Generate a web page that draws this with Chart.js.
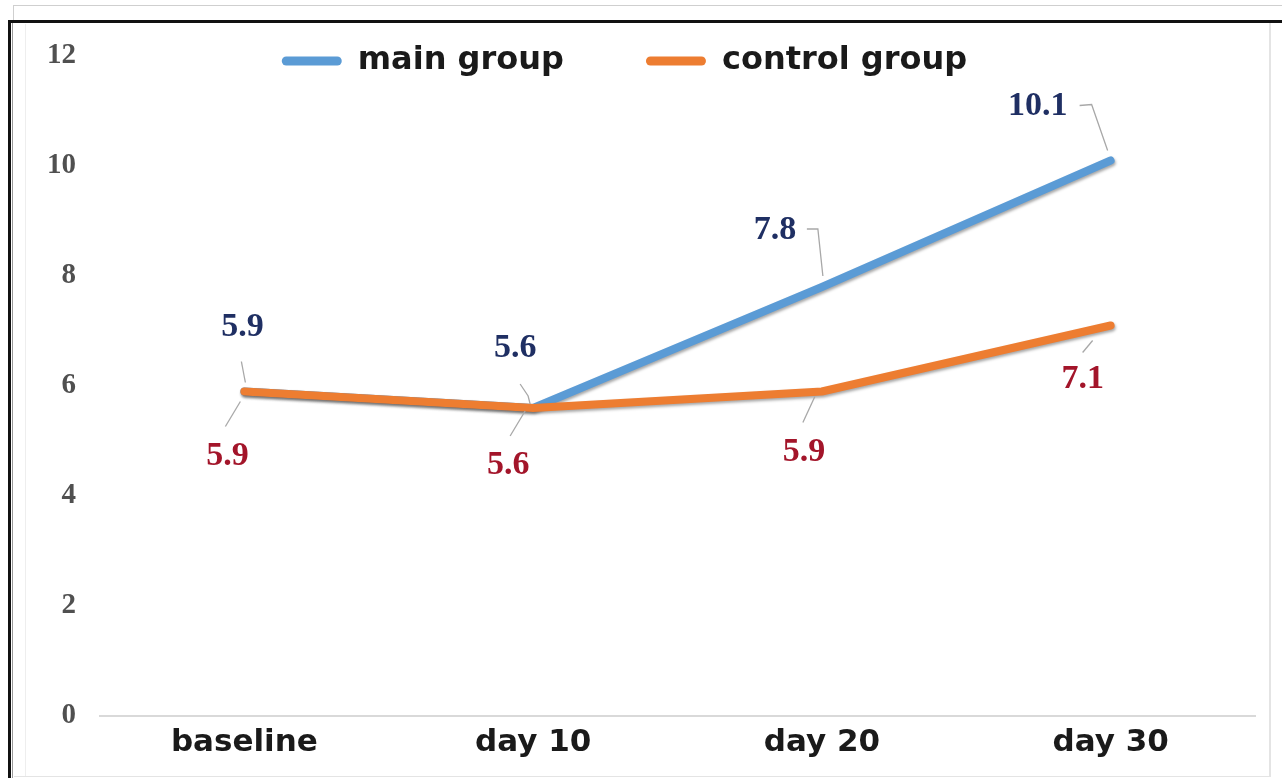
<!DOCTYPE html>
<html>
<head>
<meta charset="utf-8">
<script src="https://cdn.jsdelivr.net/npm/chart.js@4/dist/chart.umd.min.js"></script>
<style>
  html, body { margin: 0; padding: 0; background: #ffffff; }
  body { width: 1282px; height: 778px; position: relative; overflow: hidden; }
  .ln { position: absolute; }
  #wrap { position: absolute; left: 10px; top: 23px; width: 1260px; height: 753px; }
</style>
</head>
<body>
<!-- frame lines -->
<div class="ln" style="left:14px; top:5px; width:1268px; height:1px; background:#cfcfcf;"></div>
<div class="ln" style="left:13px; top:5px; width:1px; height:16px; background:#cfcfcf;"></div>
<div class="ln" style="left:8px; top:20px; width:1274px; height:3px; background:#111;"></div>
<div class="ln" style="left:8px; top:20px; width:3px; height:758px; background:#111;"></div>
<div class="ln" style="left:12px; top:23px; width:1px; height:755px; background:#9a9a9a;"></div>
<div class="ln" style="left:25px; top:24px; width:1px; height:752px; background:#eeeeee;"></div>
<div class="ln" style="left:1269px; top:23px; width:2px; height:753px; background:#e4e4e4;"></div>
<div class="ln" style="left:14px; top:776px; width:1257px; height:1px; background:#e4e4e4;"></div>

<div id="wrap"><canvas id="chart" width="1260" height="753"></canvas></div>

<script>
// Categories and measured values
const categories = ['baseline', 'day 10', 'day 20', 'day 30'];
const mainGroup = [5.9, 5.6, 7.8, 10.1];
const controlGroup = [5.9, 5.6, 5.9, 7.1];
const yTicks = [0, 2, 4, 6, 8, 10, 12];

const BLUE = '#5B9BD5';
const ORANGE = '#ED7D31';

// Where each value label sits relative to its point, plus its leader line
const labelPlacement = [
  [ // main group
    { dx: -2,  dy: -64, leader: [[-3, -30], [1, -9]] },
    { dx: -18, dy: -60, leader: [[-13, -24], [-5, -12], [-3, -4]] },
    { dx: -47, dy: -57, leader: [[-15, -58], [-4, -58], [1, -11]] },
    { dx: -73, dy: -54, leader: [[-31, -55], [-19, -56], [-3, -10]] }
  ],
  [ // control group
    { dx: -17, dy: 65, leader: [[-4, 10], [-19, 35]] },
    { dx: -25, dy: 57, leader: [[-8, 3], [-23, 28]] },
    { dx: -18, dy: 61, leader: [[-7, 5], [-19, 31]] },
    { dx: -28, dy: 54, leader: [[-18, 15], [-28, 27]] }
  ]
];

// Soft shadow under each line
const lineShadow = {
  id: 'lineShadow',
  beforeDatasetDraw(chart) {
    const ctx = chart.ctx;
    ctx.save();
    ctx.shadowColor = 'rgba(0,0,0,0.35)';
    ctx.shadowBlur = 3;
    ctx.shadowOffsetX = 1;
    ctx.shadowOffsetY = 2;
  },
  afterDatasetDraw(chart) {
    chart.ctx.restore();
  }
};

// Value labels with leader lines, drawn from the dataset values
const valueLabels = {
  id: 'valueLabels',
  afterDatasetsDraw(chart, args, opts) {
    const ctx = chart.ctx;
    ctx.save();
    chart.data.datasets.forEach((ds, di) => {
      const meta = chart.getDatasetMeta(di);
      const place = opts.placement[di];
      meta.data.forEach((pt, i) => {
        const p = place[i];
        ctx.beginPath();
        p.leader.forEach((o, k) => {
          if (k === 0) ctx.moveTo(pt.x + o[0], pt.y + o[1]);
          else ctx.lineTo(pt.x + o[0], pt.y + o[1]);
        });
        ctx.strokeStyle = opts.leaderColor;
        ctx.lineWidth = 1.3;
        ctx.stroke();
        ctx.font = opts.font;
        ctx.fillStyle = opts.colors[di];
        ctx.textAlign = 'center';
        ctx.textBaseline = 'middle';
        ctx.fillText(ds.data[i].toFixed(1), pt.x + p.dx, pt.y + p.dy);
      });
    });
    ctx.restore();
  }
};

// Legend drawn inside the top of the plot instead of taking its own band
const LEGEND_ROW_TOP = 22;
const LEGEND_SHIFT_X = -8;
const legendInPlot = {
  id: 'legendInPlot',
  beforeLayout(chart) {
    const lg = chart.legend;
    if (!lg || lg.$wrapped) return;
    const fit = lg.fit;
    lg.fit = function () {
      fit.call(this);
      this.$fullHeight = this.height;
      this.height = 0;
    };
    lg.$wrapped = true;
  },
  afterLayout(chart) {
    const lg = chart.legend;
    if (!lg) return;
    const pad = lg.options.labels.padding;
    lg.top = LEGEND_ROW_TOP - pad;
    lg.height = lg.$fullHeight;
    lg.bottom = lg.top + lg.$fullHeight;
    lg.left += LEGEND_SHIFT_X;
    lg.right += LEGEND_SHIFT_X;
  }
};

new Chart(document.getElementById('chart'), {
  type: 'line',
  data: {
    labels: categories,
    datasets: [
      {
        label: 'main group',
        data: mainGroup,
        borderColor: BLUE,
        backgroundColor: BLUE,
        order: 1
      },
      {
        label: 'control group',
        data: controlGroup,
        borderColor: ORANGE,
        backgroundColor: ORANGE,
        order: 0
      }
    ]
  },
  options: {
    responsive: false,
    animation: false,
    events: [],
    layout: { padding: { top: 33, right: 15, bottom: 0, left: 0 } },
    elements: {
      line: { borderWidth: 8, tension: 0, borderCapStyle: 'round', borderJoinStyle: 'round' },
      point: { radius: 0 }
    },
    scales: {
      x: {
        offset: true,
        grid: { display: false, drawTicks: false },
        border: { display: true, color: '#d9d9d9', width: 2 },
        ticks: {
          padding: 8,
          color: '#1a1a1a',
          font: { family: 'DejaVu Sans', size: 31, weight: 'bold' },
          maxRotation: 0
        },
        afterFit(scale) { scale.height = 60; }
      },
      y: {
        min: 0,
        max: 12,
        afterBuildTicks(scale) { scale.ticks = yTicks.map(v => ({ value: v })); },
        grid: { display: false, drawTicks: false },
        border: { display: false },
        ticks: {
          padding: 24,
          color: '#505050',
          font: { family: 'Liberation Serif', size: 29, weight: 'bold' }
        },
        afterFit(scale) {
          scale.width = 90;
          scale.paddingTop = 0;
          scale.paddingBottom = 0;
        }
      }
    },
    plugins: {
      legend: {
        position: 'top',
        align: 'center',
        labels: {
          padding: 82,
          boxWidth: 60,
          boxHeight: 9,
          color: '#1a1a1a',
          font: { family: 'DejaVu Sans', size: 32, weight: 'bold' },
          sort: (a, b) => a.datasetIndex - b.datasetIndex,
          generateLabels(chart) {
            return Chart.defaults.plugins.legend.labels.generateLabels(chart).map(item => {
              item.lineWidth = 0;
              item.borderRadius = 4.5;
              return item;
            });
          }
        }
      },
      tooltip: { enabled: false },
      valueLabels: {
        placement: labelPlacement,
        colors: ['#1F2F63', '#A3152A'],
        leaderColor: '#a8a8a8',
        font: 'bold 34px "Liberation Serif"'
      }
    }
  },
  plugins: [lineShadow, valueLabels, legendInPlot]
});
</script>
</body>
</html>
